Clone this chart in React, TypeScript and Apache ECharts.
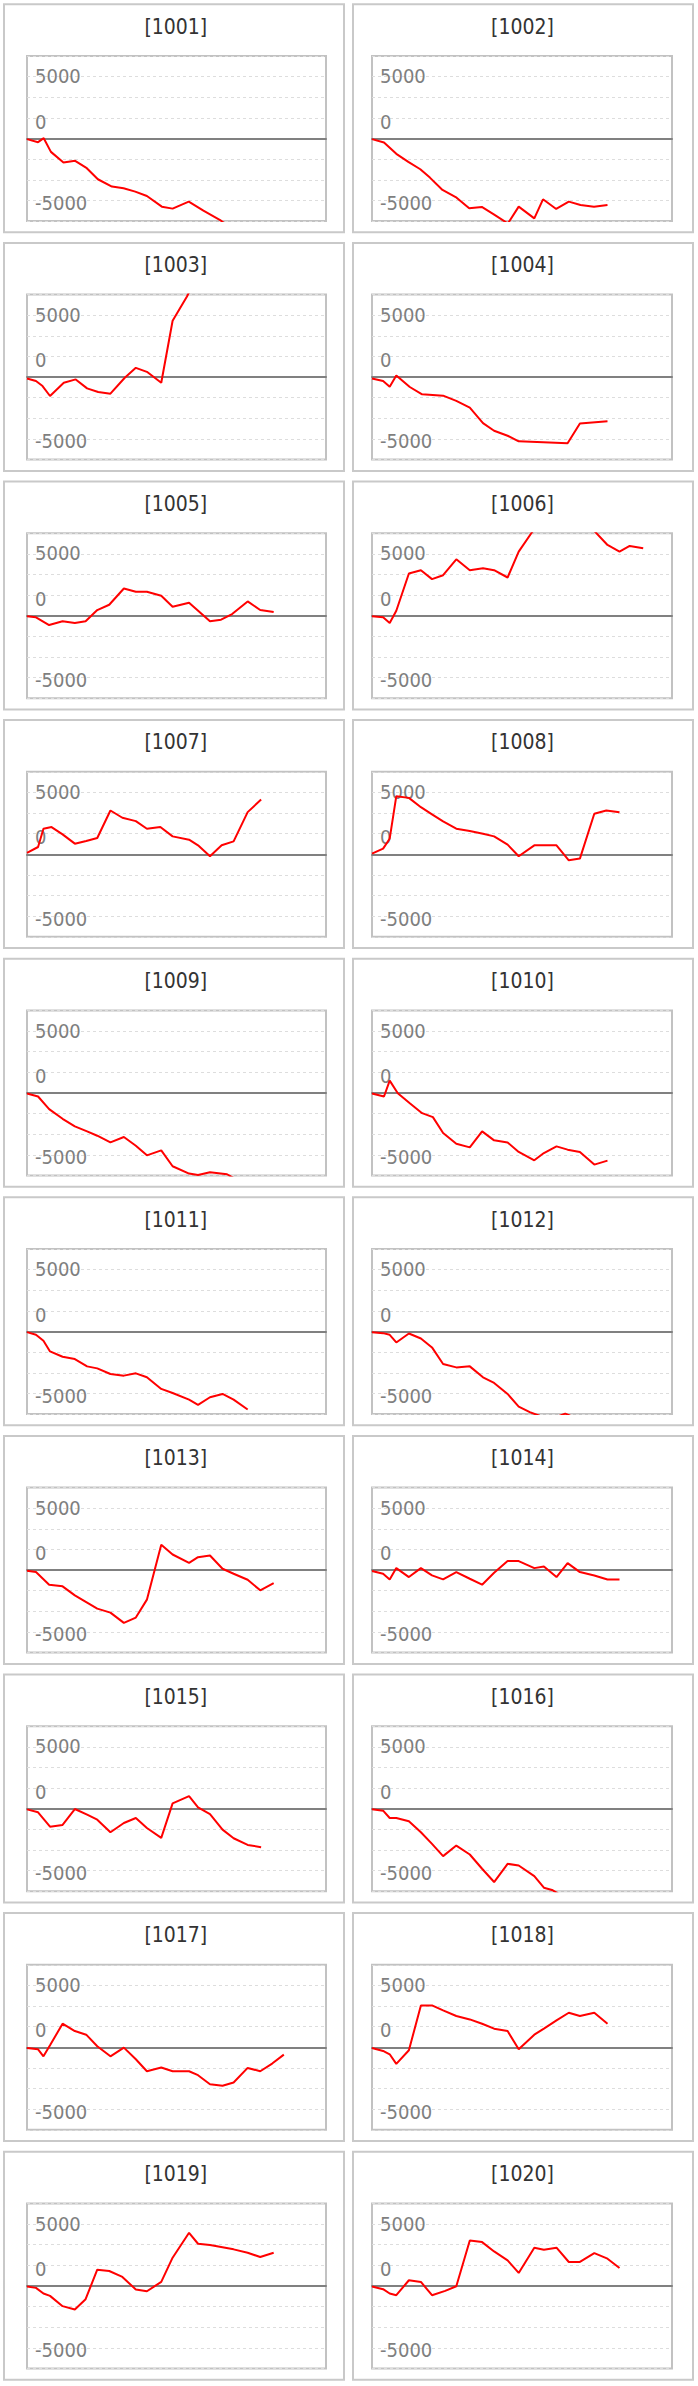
import React, { useEffect, useRef } from 'react';
import * as echarts from 'echarts';

type Pt = [number, number];

const panelIds = ['1001', '1002', '1003', '1004', '1005', '1006', '1007', '1008', '1009', '1010',
  '1011', '1012', '1013', '1014', '1015', '1016', '1017', '1018', '1019', '1020'];

const tickLabels = [5000, 0, -5000];

const p1001: Pt[] = [[0, -80], [3.7, -445], [5.6, 40], [8, -1620], [12.2, -2915], [16.1, -2710], [20, -3600], [23.7, -4940], [28.4, -5830], [32.3, -6030], [36.2, -6440], [40.1, -6970], [45.1, -8260], [48.7, -8500], [54.1, -7650], [59, -8750], [64.6, -9880], [68.5, -11000]];
const p1002: Pt[] = [[0, -80], [4, -490], [8.1, -1860], [12.1, -2835], [16.1, -3730], [19.3, -4740], [23.5, -6240], [28.2, -7170], [32.4, -8460], [36.6, -8300], [40.6, -9190], [45.3, -10300], [48.9, -8260], [54.1, -9680], [57, -7370], [61.4, -8540], [65.6, -7650], [69.5, -8060], [74, -8260], [78.5, -8060]];
const p1003: Pt[] = [[0, -160], [3, -480], [5.2, -1085], [7.7, -2290], [12.3, -680], [16.3, -280], [20.1, -1370], [23.8, -1810], [27.9, -2010], [32.7, -80], [36.4, 1125], [40.1, 640], [44.9, -680], [48.7, 6830], [53.5, 9770], [57.2, 12500]];
const p1004: Pt[] = [[0, -160], [3.7, -480], [5.9, -1165], [8.1, 200], [12.6, -1200], [16.7, -2090], [23.7, -2250], [28.1, -2890], [32.6, -3700], [37, -5580], [40.7, -6500], [45.2, -7110], [48.9, -7790], [65.2, -8030], [69.3, -5620], [78.5, -5340]];
const p1005: Pt[] = [[0, -80], [3, -200], [7.4, -1130], [11.9, -680], [16, -885], [19.6, -680], [23.5, 685], [27.5, 1330], [32.4, 3300], [36.4, 2900], [40.1, 2900], [44.9, 2415], [48.7, 1090], [54.2, 1570], [61.2, -680], [64.9, -480], [68.6, 200], [73.8, 1730], [78, 685], [82.5, 440]];
const p1006: Pt[] = [[0, -80], [3.7, -200], [5.9, -885], [8.1, 600], [12.3, 5110], [16.3, 5510], [20, 4430], [23.7, 4910], [28.1, 6840], [32.6, 5510], [37, 5750], [40.7, 5510], [45.2, 4630], [48.9, 7770], [53.5, 10200], [57.5, 11500], [61.5, 12000], [65.5, 12300], [69.5, 11800], [73, 10700], [78.5, 8570], [82.5, 7770], [85.9, 8450], [90.4, 8170]];
const p1007: Pt[] = [[0, 160], [3.7, 885], [5.5, 3100], [8.2, 3300], [11.9, 2415], [16, 1290], [19.8, 1610], [23.5, 1970], [27.9, 5310], [31.9, 4430], [36.4, 4020], [40.1, 3100], [44.6, 3300], [48.7, 2175], [54.2, 1770], [57.2, 1090], [61.2, -240], [65.1, 1090], [69.1, 1570], [73.8, 5110], [78.3, 6640]];
const p1008: Pt[] = [[0, 80], [3.7, 685], [5.9, 1890], [8.1, 7040], [12.3, 6840], [16.3, 5710], [20, 4830], [23.7, 3980], [28.1, 3100], [32.6, 2815], [37, 2495], [40.7, 2175], [45.2, 1170], [48.9, -240], [54.1, 1090], [61.5, 1090], [65.6, -725], [69.3, -520], [74.1, 4910], [78.1, 5310], [82.5, 5110]];
const p1009: Pt[] = [[0, -80], [3.7, -440], [7.4, -1970], [11.9, -3140], [16, -4060], [20.1, -4670], [23.5, -5190], [27.9, -6000], [32.4, -5350], [36.4, -6400], [40.1, -7570], [44.9, -6960], [48.7, -8890], [54.2, -9780], [57.2, -9940], [61.2, -9620], [66.9, -9860], [70.5, -10600], [74, -11200]];
const p1010: Pt[] = [[0, -80], [4, -440], [5.9, 1490], [8.6, -40], [12.6, -1250], [16.7, -2455], [20.3, -2940], [23.7, -4870], [28.1, -6160], [32.6, -6600], [36.7, -4670], [40.7, -5750], [45.2, -6000], [48.9, -7160], [54.1, -8170], [57.3, -7290], [61.5, -6480], [65.2, -6880], [69.3, -7160], [74.1, -8690], [78.5, -8210]];
const p1011: Pt[] = [[0, -80], [3, -400], [5.5, -1130], [7.7, -2415], [11.9, -3060], [16, -3340], [20.1, -4225], [23.5, -4470], [27.9, -5150], [32.4, -5350], [36.4, -5070], [40.1, -5550], [44.9, -6960], [48.7, -7450], [54.2, -8250], [57.2, -8890], [61.2, -7970], [65.4, -7570], [69.1, -8250], [73.8, -9460]];
const p1012: Pt[] = [[0, -80], [3.7, -200], [5.9, -400], [8.1, -1330], [12.3, -240], [16.3, -845], [20, -1930], [23.7, -3940], [28.1, -4350], [32.6, -4225], [37, -5550], [40.7, -6240], [45.2, -7570], [48.9, -9100], [52.6, -9780], [56.5, -10300], [60.5, -10500], [64.4, -9950], [68.5, -10600], [72.5, -11200]];
const p1013: Pt[] = [[0, -80], [3, -240], [7.4, -1770], [11.9, -1970], [16, -3060], [20.1, -3940], [23.5, -4670], [27.9, -5150], [32.4, -6400], [36.4, -5750], [40.1, -3580], [44.9, 3060], [48.7, 1890], [54.2, 885], [57.2, 1570], [61.2, 1770], [65.4, 160], [69.1, -440], [73.8, -1170], [78, -2455], [82.5, -1570]];
const p1014: Pt[] = [[0, -120], [3.7, -440], [5.9, -1130], [8.1, 240], [12.3, -845], [16.3, 240], [20, -645], [23.7, -1130], [28.1, -240], [32.6, -1050], [36.7, -1770], [40.7, -320], [45.2, 1090], [48.9, 1090], [54.1, 240], [57.3, 440], [61.5, -845], [65.2, 845], [69.3, -240], [74.1, -645], [78.5, -1130], [82.5, -1130]];
const p1015: Pt[] = [[0, -80], [3.7, -440], [7.7, -2175], [11.9, -1970], [16, -40], [20.1, -725], [23.5, -1330], [27.9, -2860], [32.4, -1730], [36.4, -1130], [40.1, -2335], [44.9, -3540], [48.7, 645], [54.2, 1530], [57.2, 160], [61.2, -645], [65.4, -2535], [69.1, -3580], [73.8, -4390], [78.3, -4670]];
const p1016: Pt[] = [[0, -80], [3.7, -240], [5.9, -1130], [8.1, -1130], [12.3, -1530], [16.3, -2860], [20, -4270], [23.7, -5750], [28.1, -4470], [32.6, -5550], [36.7, -7280], [40.7, -8890], [45.2, -6680], [48.9, -6880], [54.1, -8170], [57.3, -9580], [60, -9850], [63, -10500], [66, -11000]];
const p1017: Pt[] = [[0, -80], [3.7, -240], [5.5, -1090], [7.7, 240], [11.9, 2860], [16, 1970], [19.8, 1530], [23.5, 120], [27.9, -1090], [32.4, -40], [36.4, -1450], [40.1, -2900], [44.9, -2455], [48.7, -2900], [54.2, -2900], [57.2, -3380], [61.2, -4470], [65.4, -4670], [69.1, -4270], [73.8, -2500], [78, -2900], [82, -1970], [85.9, -885]];
const p1018: Pt[] = [[0, -80], [3.7, -440], [5.9, -845], [8.1, -2015], [12.3, -360], [16.3, 5080], [20, 5080], [23.7, 4470], [28.1, 3790], [32.6, 3380], [36.7, 2860], [40.7, 2255], [45.2, 1970], [48.9, -240], [54.1, 1530], [57.3, 2255], [61.5, 3260], [65.6, 4190], [69.3, 3790], [74.1, 4190], [78.5, 2860]];
const p1019: Pt[] = [[0, -80], [3, -240], [5.5, -925], [7.7, -1210], [11.9, -2455], [16, -2860], [19.6, -1610], [23.5, 1970], [27.5, 1810], [31.9, 1090], [36.4, -440], [40.1, -645], [44.9, 480], [48.7, 3420], [54.2, 6440], [57.2, 5110], [61.2, 4950], [69.1, 4430], [73.8, 4020], [78, 3500], [82.5, 4020]];
const p1020: Pt[] = [[0, -80], [3.7, -400], [5.9, -925], [8.1, -1130], [12.3, 685], [16.3, 480], [20, -1130], [24.4, -600], [28.1, -40], [32.6, 5510], [36.7, 5310], [40.7, 4180], [45.2, 3100], [48.9, 1570], [54.1, 4630], [57.3, 4390], [61.5, 4630], [65.6, 2900], [69.3, 2900], [74.1, 3980], [78.5, 3300], [82.5, 2175]];

const panelSeries: Pt[][] = [p1001, p1002, p1003, p1004, p1005, p1006, p1007, p1008, p1009, p1010,
  p1011, p1012, p1013, p1014, p1015, p1016, p1017, p1018, p1019, p1020];

const W = 698;
const H = 2386;
const ROW_H = 238.6;
const FONT = '"DejaVu Sans Condensed", "Liberation Sans Narrow", "Liberation Sans", sans-serif';

export default function App() {
  const ref = useRef<HTMLDivElement>(null);

  useEffect(() => {
    if (!ref.current) return;
    const chart = echarts.init(ref.current, null, { renderer: 'svg', width: W, height: H });

    const grids: any[] = [];
    const xAxes: any[] = [];
    const yAxes: any[] = [];
    const series: any[] = [];
    const graphics: any[] = [];

    // each label is drawn as a two-line block; the empty line pushes it off its tick
    const labelShift = [
      { lineHeight: 42, up: true },
      { lineHeight: 34, up: true },
      { lineHeight: 46, up: false },
    ];

    panelIds.forEach((id, i) => {
      const r = Math.floor(i / 2);
      const c = i % 2;
      const panelX = 4 + 349 * c;
      const panelY = 4.3 + ROW_H * r;
      graphics.push({
        type: 'rect',
        silent: true,
        shape: { x: panelX, y: panelY, width: 340, height: 228 },
        style: { fill: 'none', stroke: '#c9c9c9', lineWidth: 2 },
      });
      graphics.push({
        type: 'text',
        silent: true,
        x: c ? 522.5 : 175.8,
        y: 26.5 + ROW_H * r,
        style: {
          text: `[${id}]`,
          fill: '#333333',
          fontSize: 21,
          fontFamily: FONT,
          align: 'center',
          verticalAlign: 'middle',
        },
      });

      grids.push({
        left: c ? 372 : 27,
        top: 56 + ROW_H * r,
        width: c ? 300 : 299,
        height: 165,
        show: true,
        borderColor: '#c2c2c2',
        borderWidth: 2,
        backgroundColor: 'transparent',
        containLabel: false,
      });

      xAxes.push({
        gridIndex: i,
        type: 'value',
        min: 0,
        max: 100,
        axisLabel: { show: false },
        axisTick: { show: false },
        splitLine: { show: false },
        axisLine: { show: true, onZero: true, lineStyle: { color: '#808080', width: 2 } },
      });

      tickLabels.forEach((t, k) => {
        const sh = labelShift[k];
        yAxes.push({
          gridIndex: i,
          type: 'value',
          position: 'left',
          offset: 0,
          min: -10000,
          max: 10000,
          interval: 2500,
          axisLine: { show: false },
          axisTick: { show: false },
          splitLine: k === 0
            ? { show: true, lineStyle: { color: '#dddddd', width: 1, type: [3, 3] } }
            : { show: false },
          axisLabel: {
            inside: true,
            margin: 8,
            color: '#7f7f7f',
            fontSize: 20,
            fontFamily: FONT,
            lineHeight: sh.lineHeight,
            verticalAlign: 'middle',
            formatter: (v: number) => (v === t ? (sh.up ? `${t}\n ` : ` \n${t}`) : ''),
          },
        });
      });

      series.push({
        type: 'line',
        xAxisIndex: i,
        yAxisIndex: i * 3,
        data: panelSeries[i],
        showSymbol: false,
        symbol: 'none',
        clip: true,
        silent: true,
        lineStyle: { color: '#ff0000', width: 2 },
        z: 5,
      });
    });

    chart.setOption({
      animation: false,
      backgroundColor: '#ffffff',
      grid: grids,
      xAxis: xAxes,
      yAxis: yAxes,
      series,
      graphic: graphics,
    });

    return () => {
      chart.dispose();
    };
  }, []);

  return (
    <div
      ref={ref}
      style={{ position: 'absolute', left: 0, top: 0, width: W, height: H, background: '#fff' }}
    />
  );
}
